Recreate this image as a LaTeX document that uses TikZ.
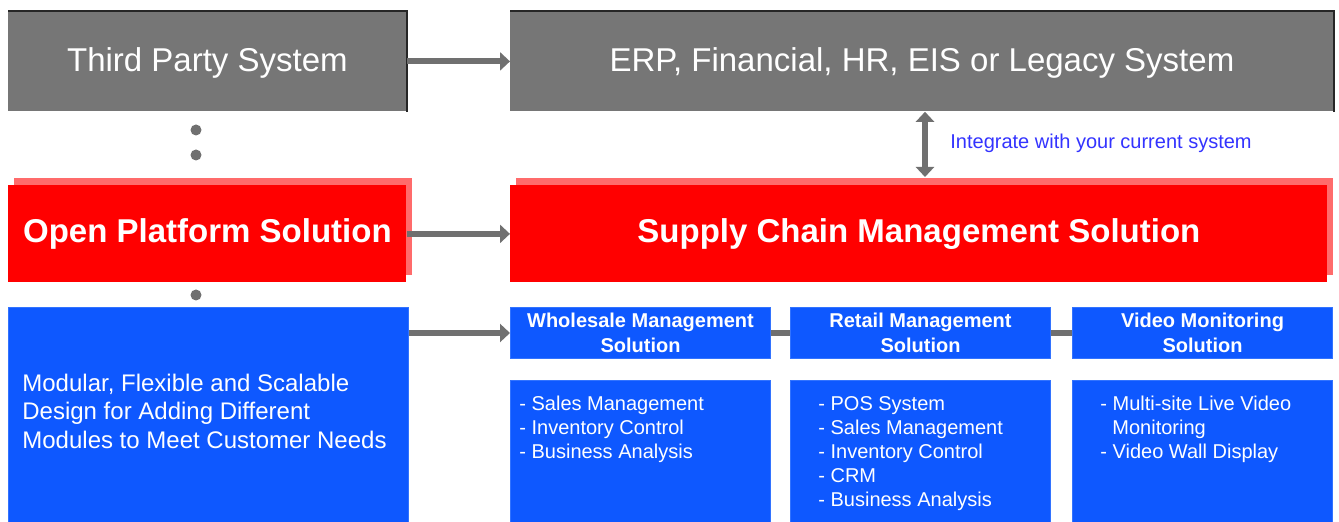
\documentclass[tikz,border=0pt]{standalone}
\usepackage{fontspec}
\setmainfont{Liberation Sans}
\usepackage{xcolor}
\definecolor{boxgray}{RGB}{118,118,118}
\definecolor{boxred}{RGB}{255,0,0}
\definecolor{shadowred}{RGB}{255,107,107}
\definecolor{boxblue}{RGB}{14,88,255}
\definecolor{edgeblue}{RGB}{50,115,255}
\definecolor{linkgray}{RGB}{112,112,112}
\definecolor{noteblue}{RGB}{51,51,255}
\usepackage{tikz}
\usetikzlibrary{calc}
\usetikzlibrary{arrows.meta}
\usetikzlibrary{shadows}
\newlength{\unitpx}
\setlength{\unitpx}{0.5pt}
\newcommand{\widthside}{398\unitpx}
\newcommand{\widthwide}{823\unitpx}
\newcommand{\widthmodule}{260\unitpx}
\tikzset{
    common/.style={anchor=north west, rectangle, inner sep=0pt, text=white},
    graybox/.style={common, fill=boxgray, minimum height=100\unitpx, text height=14pt,
        font=\fontsize{16.5}{20}\selectfont},
    redbox/.style={common, fill=boxred, minimum height=97\unitpx, font=\fontsize{16.5}{20}\selectfont\bfseries,
        general shadow={fill=shadowred, shadow xshift=6\unitpx, shadow yshift=7\unitpx}},
    bluebox/.style={common, fill=boxblue, draw=edgeblue, line width=1\unitpx},
    head/.style={bluebox, minimum width=\widthmodule, minimum height=51\unitpx, align=center,
        font=\fontsize{10}{12.5}\selectfont\bfseries},
    list/.style={bluebox, minimum width=\widthmodule, minimum height=142\unitpx},
    listtext/.style={anchor=north west, align=left, text=white, inner sep=0pt,
        font=\fontsize{10}{12}\selectfont},
    note/.style={anchor=west, inner sep=0pt, text=noteblue, font=\fontsize{10}{12}\selectfont},
    link/.style={draw=linkgray, line width=3pt},
    arrow/.style={link, -{Triangle[length=5pt, width=9pt]}},
    twoway/.style={link, {Triangle[length=5pt, width=9pt]}-{Triangle[length=5pt, width=9pt]}},
    dot/.style={circle, fill=linkgray, minimum size=11\unitpx, inner sep=0pt},
    darkedge/.style={draw=black!85, line width=1pt}
}

\begin{document}
\begin{tikzpicture}[x=0.5pt, y=-0.5pt]
    \useasboundingbox (0,0) rectangle (1339,522);

    % top row
    \node[graybox, minimum width=\widthside] (third) at (8,11) {Third Party System};
    \node[graybox, minimum width=\widthwide] (erp) at (510,11) {ERP, Financial, HR, EIS or Legacy System};
    \draw[darkedge] (third.north west) -- (third.north east) -- (third.south east);
    \draw[darkedge] (erp.north west) -- (erp.north east) -- (erp.south east);

    % middle row
    \node[redbox, minimum width=\widthside] (open) at (8,185) {Open Platform Solution};
    \node[redbox, minimum width=817\unitpx] (scm) at (510,185) {Supply Chain Management Solution};

    % bottom row
    \node[bluebox, minimum width=400\unitpx, minimum height=215\unitpx] (modular) at (8,307) {};
    \node[anchor=west, align=left, inner sep=0pt, text=white, font=\fontsize{12}{14.25}\selectfont]
        (modulartext) at (22,411)
        {Modular, Flexible and Scalable\\Design for Adding Different\\Modules to Meet Customer Needs};
    \node[head] (wholesale) at (510,307) {Wholesale Management\\Solution};
    \node[head] (retail) at (790,307) {Retail Management\\Solution};
    \node[head] (video) at (1072,307) {Video Monitoring\\Solution};
    \node[list] (wholesalelist) at (510,380) {};
    \node[list] (retaillist) at (790,380) {};
    \node[list] (videolist) at (1072,380) {};
    \node[listtext] (wholesaleitems) at (519,396)
        {- Sales Management\\- Inventory Control\\- Business Analysis};
    \node[listtext] (retailitems) at (818,396)
        {- POS System\\- Sales Management\\- Inventory Control\\- CRM\\- Business Analysis};
    \node[listtext] (videoitems) at (1100,396)
        {- Multi-site Live Video\\\hspace*{6pt}Monitoring\\- Video Wall Display};

    % dots on the left
    \node[dot] (dotA) at (196,130) {};
    \node[dot] (dotB) at (196,155) {};
    \node[dot] (dotC) at (196,295) {};

    % connectors
    \coordinate (sync) at (925,0);
    \draw[arrow] (third.east) -- (erp.west);
    \draw[arrow] (open.east) -- (scm.west);
    \draw[arrow] (modular.east |- wholesale.west) -- (wholesale.west);
    \draw[link] (wholesale.east) -- (retail.west);
    \draw[link] (retail.east) -- (video.west);
    \draw[twoway] (erp.south -| sync) -- ($(scm.north -| sync)+(0,-8)$);
    \node[note] (notesync) at (950,143) {Integrate with your current system};
\end{tikzpicture}
\end{document}
